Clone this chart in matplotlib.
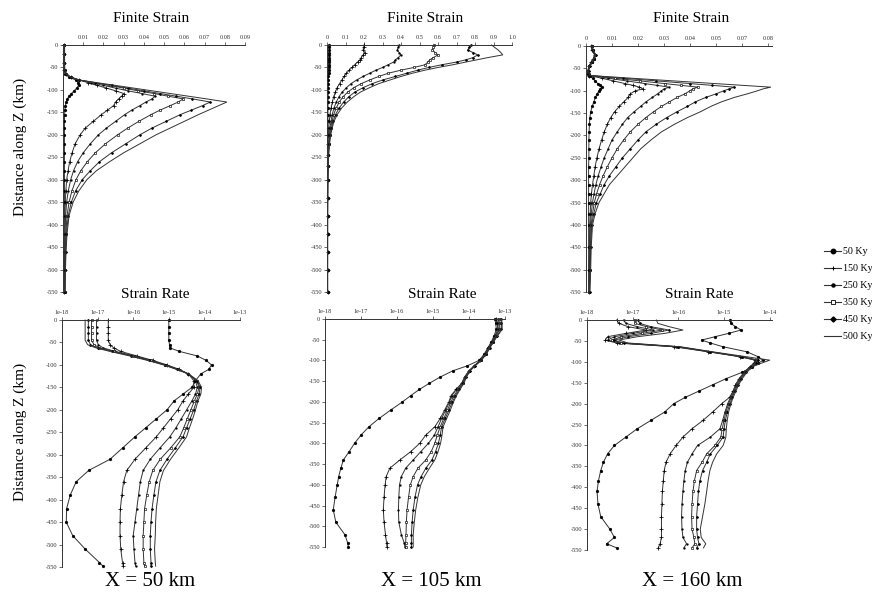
import numpy as np
import matplotlib
matplotlib.use("Agg")
import matplotlib.pyplot as plt
from matplotlib.ticker import FixedLocator, NullLocator
from matplotlib.lines import Line2D

plt.rcParams['font.family'] = ['Liberation Serif', 'DejaVu Serif']

AGES = ['50 Ky', '150 Ky', '250 Ky', '350 Ky', '450 Ky', '500 Ky']
DEPTH_TICKS = [0, -50, -100, -150, -200, -250, -300, -350, -400, -450, -500, -550]
DEPTH_TICK_LABELS = ['0', '-50', '-100', '-150', '-200', '-250', '-300', '-350',
                     '-400', '-450', '-500', '-550']

# ---------------- Finite strain, X = 50 km ----------------
depth_fs50 = [0, -20, -40, -55, -65, -72, -78, -84, -90, -96, -102, -108, -114, -120, -127,
              -135, -145, -155, -170, -185, -200, -220, -240, -260, -280, -300, -325, -350,
              -380, -420, -460, -500, -550]
fs50_50ky = [0.0005, 0.0005, 0.0005, 0.0007, 0.0012, 0.003, 0.0065, 0.0075, 0.0077, 0.0068,
             0.0055, 0.0042, 0.003, 0.0022, 0.0016, 0.0012, 0.0009, 0.0008, 0.0007, 0.0007,
             0.0007, 0.0007, 0.0007, 0.0007, 0.0007, 0.0007, 0.0007, 0.0007, 0.0007, 0.0006,
             0.0006, 0.0006, 0.0006]
fs50_150ky = [0.0006, 0.0006, 0.0006, 0.0006, 0.0013, 0.004, 0.008, 0.0125, 0.017, 0.0215,
              0.026, 0.030, 0.029, 0.0275, 0.026, 0.025, 0.022, 0.019, 0.015, 0.011,
              0.0085, 0.006, 0.0045, 0.0033, 0.0025, 0.0018, 0.0014, 0.0011, 0.001, 0.0009,
              0.0008, 0.0008, 0.0007]
fs50_250ky = [0.0006, 0.0006, 0.0006, 0.0007, 0.0014, 0.004, 0.008, 0.014, 0.020, 0.026,
              0.032, 0.039, 0.0455, 0.044, 0.041, 0.038, 0.034, 0.0305, 0.026, 0.0215,
              0.0175, 0.0135, 0.010, 0.0072, 0.0052, 0.0038, 0.0026, 0.0018, 0.0013, 0.001,
              0.0009, 0.0008, 0.0008]
fs50_350ky = [0.0007, 0.0007, 0.0007, 0.0008, 0.0015, 0.004, 0.008, 0.0155, 0.023, 0.030,
              0.037, 0.045, 0.052, 0.0595, 0.057, 0.053, 0.048, 0.0435, 0.0375, 0.032,
              0.027, 0.021, 0.016, 0.012, 0.0088, 0.0064, 0.0044, 0.003, 0.002, 0.0014,
              0.0011, 0.001, 0.0009]
fs50_450ky = [0.0007, 0.0007, 0.0007, 0.0008, 0.0015, 0.004, 0.008, 0.016, 0.024, 0.032,
              0.040, 0.048, 0.056, 0.064, 0.0728, 0.069, 0.0635, 0.058, 0.051, 0.044,
              0.038, 0.031, 0.024, 0.018, 0.0135, 0.0095, 0.0062, 0.0041, 0.0026, 0.0017,
              0.0013, 0.0011, 0.001]
fs50_500ky = [0.0008, 0.0008, 0.0008, 0.0009, 0.0016, 0.004, 0.008, 0.017, 0.026, 0.035,
              0.044, 0.053, 0.062, 0.071, 0.081, 0.077, 0.072, 0.067, 0.060, 0.053,
              0.046, 0.038, 0.030, 0.023, 0.0165, 0.0118, 0.0078, 0.005, 0.003, 0.002,
              0.0015, 0.0012, 0.001]
fs50_ticks = [0.01, 0.02, 0.03, 0.04, 0.05, 0.06, 0.07, 0.08, 0.09]
fs50_ticklabels = ['0.01', '0.02', '0.03', '0.04', '0.05', '0.06', '0.07', '0.08', '0.09']

# ---------------- Finite strain, X = 105 km ----------------
depth_fs105 = [0, -5, -11, -17, -22, -28, -33, -38, -44, -50, -56, -63, -70, -78, -86, -95,
               -105, -115, -127, -140, -155, -170, -185, -200, -220, -245, -270, -300, -340,
               -380, -420, -460, -500, -550]
fs105_50ky = [0.012, 0.012, 0.011, 0.012, 0.011, 0.011, 0.010, 0.010, 0.010, 0.009,
              0.009, 0.009, 0.008, 0.008, 0.008, 0.007, 0.007, 0.006, 0.006, 0.005,
              0.005, 0.005, 0.004, 0.004, 0.004, 0.004, 0.004, 0.003, 0.003, 0.003,
              0.003, 0.003, 0.003, 0.003]
fs105_150ky = [0.20, 0.198, 0.195, 0.205, 0.195, 0.185, 0.178, 0.165, 0.15, 0.135,
               0.12, 0.105, 0.092, 0.08, 0.068, 0.055, 0.045, 0.036, 0.029, 0.022,
               0.016, 0.012, 0.009, 0.007, 0.005, 0.004, 0.0035, 0.003, 0.003, 0.003,
               0.003, 0.003, 0.003, 0.003]
fs105_250ky = [0.39, 0.385, 0.38, 0.39, 0.40, 0.385, 0.37, 0.36, 0.33, 0.30,
               0.265, 0.23, 0.195, 0.16, 0.13, 0.105, 0.082, 0.065, 0.05, 0.038,
               0.028, 0.021, 0.016, 0.012, 0.0085, 0.006, 0.0045, 0.0035, 0.003, 0.003,
               0.003, 0.003, 0.003, 0.003]
fs105_350ky = [0.58, 0.575, 0.57, 0.585, 0.60, 0.575, 0.555, 0.545, 0.53, 0.47,
               0.40, 0.33, 0.28, 0.23, 0.185, 0.145, 0.112, 0.087, 0.066, 0.05,
               0.036, 0.027, 0.02, 0.015, 0.010, 0.007, 0.005, 0.004, 0.0035, 0.003,
               0.003, 0.003, 0.003, 0.003]
fs105_450ky = [0.78, 0.77, 0.76, 0.79, 0.815, 0.79, 0.75, 0.70, 0.62, 0.55,
               0.49, 0.43, 0.37, 0.30, 0.245, 0.195, 0.15, 0.118, 0.09, 0.066,
               0.046, 0.033, 0.024, 0.018, 0.012, 0.008, 0.006, 0.0045, 0.0035, 0.003,
               0.003, 0.003, 0.003, 0.003]
fs105_500ky = [0.89, 0.905, 0.925, 0.94, 0.95, 0.87, 0.81, 0.75, 0.68, 0.60,
               0.53, 0.46, 0.40, 0.34, 0.28, 0.23, 0.18, 0.145, 0.11, 0.08,
               0.055, 0.038, 0.028, 0.02, 0.014, 0.009, 0.007, 0.005, 0.004, 0.0035,
               0.003, 0.003, 0.003, 0.003]
fs105_ticks = [0, 0.1, 0.2, 0.3, 0.4, 0.5, 0.6, 0.7, 0.8, 0.9, 1.0]
fs105_ticklabels = ['0', '0.1', '0.2', '0.3', '0.4', '0.5', '0.6', '0.7', '0.8', '0.9', '1.0']

# ---------------- Finite strain, X = 160 km ----------------
depth_fs160 = [0, -10, -20, -28, -36, -45, -55, -62, -66, -72, -78, -84, -88, -92, -96,
               -100, -107, -115, -125, -135, -147, -160, -175, -192, -210, -230, -250, -270,
               -290, -310, -330, -350, -375, -400, -450, -500, -550]
fs160_50ky = [0.0022, 0.0025, 0.0035, 0.003, 0.0022, 0.0012, 0.0008, 0.0008, 0.0012, 0.0025,
              0.0035, 0.0045, 0.0053, 0.006, 0.0055, 0.005, 0.0043, 0.0036, 0.003, 0.0024,
              0.0018, 0.0015, 0.0013, 0.0012, 0.0011, 0.0011, 0.0011, 0.001, 0.001, 0.001,
              0.001, 0.001, 0.001, 0.001, 0.001, 0.001, 0.001]
fs160_150ky = [0.002, 0.0023, 0.0033, 0.0028, 0.002, 0.0011, 0.0007, 0.0008, 0.0013, 0.006,
               0.0105, 0.015, 0.018, 0.0205, 0.022, 0.019, 0.017, 0.0162, 0.0145, 0.0128,
               0.011, 0.0095, 0.0082, 0.007, 0.006, 0.005, 0.0042, 0.0035, 0.003, 0.0025,
               0.0021, 0.0018, 0.0016, 0.0014, 0.0013, 0.0012, 0.0011]
fs160_250ky = [0.0021, 0.0024, 0.0034, 0.0029, 0.0021, 0.0012, 0.0008, 0.0009, 0.0014, 0.0085,
               0.0156, 0.0226, 0.0273, 0.032, 0.030, 0.029, 0.0275, 0.0255, 0.023, 0.021,
               0.0185, 0.016, 0.014, 0.012, 0.010, 0.0085, 0.007, 0.0058, 0.0047, 0.0038,
               0.0031, 0.0025, 0.002, 0.0017, 0.0015, 0.0013, 0.0012]
fs160_350ky = [0.0022, 0.0026, 0.0036, 0.003, 0.0022, 0.0013, 0.0009, 0.001, 0.0015, 0.011,
               0.0207, 0.0302, 0.0366, 0.043, 0.041, 0.040, 0.038, 0.035, 0.032, 0.029,
               0.026, 0.023, 0.020, 0.017, 0.0145, 0.012, 0.010, 0.0082, 0.0066, 0.0052,
               0.0041, 0.0032, 0.0025, 0.002, 0.0017, 0.0015, 0.0013]
fs160_450ky = [0.0023, 0.0027, 0.0037, 0.0031, 0.0023, 0.0014, 0.001, 0.0011, 0.0015, 0.0143,
               0.0271, 0.040, 0.0485, 0.057, 0.055, 0.053, 0.050, 0.046, 0.042, 0.039,
               0.035, 0.031, 0.027, 0.023, 0.020, 0.017, 0.014, 0.0115, 0.009, 0.007,
               0.0055, 0.004, 0.003, 0.0022, 0.0018, 0.0016, 0.0014]
fs160_500ky = [0.0024, 0.0028, 0.0038, 0.0032, 0.0024, 0.0015, 0.0011, 0.0012, 0.0016, 0.0175,
               0.0336, 0.0496, 0.0603, 0.071, 0.068, 0.066, 0.062, 0.057, 0.052, 0.048,
               0.044, 0.039, 0.034, 0.029, 0.025, 0.021, 0.018, 0.015, 0.012, 0.009,
               0.007, 0.005, 0.0035, 0.0025, 0.002, 0.0018, 0.0015]
fs160_ticks = [0, 0.01, 0.02, 0.03, 0.04, 0.05, 0.06, 0.07]
fs160_ticklabels = ['0', '0.01', '0.02', '0.03', '0.04', '0.05', '0.07', '0.08']

# ---------------- Strain rate (log10 of s^-1), X = 50 km ----------------
depth_sr50 = [0, -15, -30, -45, -55, -62, -70, -80, -90, -100, -110, -120, -135, -150, -165,
              -180, -200, -220, -240, -260, -285, -310, -335, -360, -390, -420, -450, -480,
              -510, -540, -548]
sr50_50ky_log10 = [-15.0, -15.0, -15.0, -15.0, -14.98, -14.97, -14.7, -14.2, -13.95, -13.8,
                   -13.88, -14.1, -14.25, -14.35, -14.6, -14.85, -15.05, -15.35, -15.65, -15.95,
                   -16.3, -16.65, -17.25, -17.6, -17.77, -17.87, -17.88, -17.7, -17.35, -16.95,
                   -16.85]
sr50_150ky_log10 = [-16.70, -16.70, -16.70, -16.70, -16.65, -16.55, -16.35, -15.9, -15.45, -15.05,
                    -14.7, -14.45, -14.3, -14.3, -14.45, -14.6, -14.75, -14.95, -15.15, -15.35,
                    -15.65, -15.95, -16.18, -16.27, -16.32, -16.36, -16.37, -16.37, -16.35, -16.3,
                    -16.28]
sr50_250ky_log10 = [-17.03, -17.03, -17.03, -17.03, -16.98, -16.85, -16.5, -15.95, -15.5, -15.1,
                    -14.75, -14.45, -14.25, -14.2, -14.25, -14.35, -14.5, -14.65, -14.8, -14.97,
                    -15.25, -15.52, -15.72, -15.8, -15.85, -15.9, -15.95, -16.0, -15.98, -15.95,
                    -15.93]
sr50_350ky_log10 = [-17.17, -17.17, -17.17, -17.17, -17.1, -16.95, -16.55, -16.0, -15.5, -15.1,
                    -14.75, -14.45, -14.22, -14.15, -14.2, -14.28, -14.38, -14.48, -14.58, -14.69,
                    -14.95, -15.24, -15.45, -15.55, -15.62, -15.68, -15.7, -15.72, -15.72, -15.7,
                    -15.68]
sr50_450ky_log10 = [-17.26, -17.26, -17.26, -17.26, -17.2, -17.0, -16.6, -16.05, -15.55, -15.12,
                    -14.76, -14.45, -14.2, -14.12, -14.15, -14.22, -14.3, -14.4, -14.5, -14.6,
                    -14.82, -15.05, -15.25, -15.36, -15.42, -15.47, -15.5, -15.52, -15.52, -15.5,
                    -15.5]
sr50_500ky_log10 = [-17.35, -17.35, -17.35, -17.35, -17.28, -17.05, -16.65, -16.1, -15.6, -15.15,
                    -14.78, -14.45, -14.18, -14.08, -14.1, -14.18, -14.25, -14.33, -14.42, -14.5,
                    -14.72, -14.95, -15.15, -15.25, -15.3, -15.35, -15.37, -15.38, -15.4, -15.38,
                    -15.37]
sr50_ticks = [1e-18, 1e-17, 1e-16, 1e-15, 1e-14, 1e-13]
sr50_ticklabels = ['1e-18', '1e-17', '1e-16', '1e-15', '1e-14', '1e-13']

# ---------------- Strain rate (log10), X = 105 km ----------------
depth_sr105 = [0, -10, -25, -40, -55, -70, -85, -100, -113, -125, -140, -155, -170, -185, -200,
               -220, -240, -260, -280, -300, -320, -340, -360, -380, -400, -430, -460, -490,
               -520, -540, -550]
sr105_50ky_log10 = [-13.28, -13.26, -13.24, -13.3, -13.38, -13.48, -13.58, -13.72, -14.05, -14.45,
                    -14.8, -15.1, -15.38, -15.62, -15.85, -16.18, -16.5, -16.78, -17.0, -17.18,
                    -17.33, -17.49, -17.56, -17.62, -17.66, -17.72, -17.77, -17.7, -17.45, -17.37,
                    -17.35]
sr105_150ky_log10 = [-13.25, -13.22, -13.2, -13.28, -13.36, -13.46, -13.56, -13.7, -13.85, -14.0,
                     -14.12, -14.2, -14.36, -14.5, -14.56, -14.68, -14.8, -14.95, -15.2, -15.37,
                     -15.62, -15.92, -16.2, -16.3, -16.33, -16.36, -16.38, -16.36, -16.32, -16.29,
                     -16.28]
sr105_250ky_log10 = [-13.2, -13.18, -13.16, -13.27, -13.35, -13.45, -13.55, -13.69, -13.85, -14.0,
                     -14.12, -14.2, -14.35, -14.48, -14.54, -14.65, -14.76, -14.86, -14.96, -15.13,
                     -15.34, -15.55, -15.76, -15.88, -15.93, -15.95, -15.96, -15.95, -15.88, -15.8,
                     -15.78]
sr105_350ky_log10 = [-13.18, -13.15, -13.14, -13.25, -13.34, -13.44, -13.54, -13.68, -13.85, -14.0,
                     -14.1, -14.18, -14.3, -14.42, -14.5, -14.6, -14.7, -14.8, -14.88, -14.95,
                     -15.05, -15.2, -15.42, -15.55, -15.63, -15.68, -15.72, -15.74, -15.75, -15.76,
                     -15.76]
sr105_450ky_log10 = [-13.12, -13.1, -13.1, -13.22, -13.33, -13.43, -13.53, -13.67, -13.84, -13.98,
                     -14.08, -14.16, -14.27, -14.38, -14.46, -14.56, -14.66, -14.76, -14.8, -14.85,
                     -14.93, -15.03, -15.2, -15.33, -15.43, -15.5, -15.55, -15.58, -15.6, -15.6,
                     -15.6]
sr105_500ky_log10 = [-13.1, -13.08, -13.08, -13.2, -13.32, -13.42, -13.52, -13.66, -13.83, -13.97,
                     -14.07, -14.14, -14.25, -14.35, -14.43, -14.52, -14.62, -14.72, -14.75, -14.79,
                     -14.86, -14.95, -15.1, -15.24, -15.34, -15.42, -15.48, -15.52, -15.55, -15.55,
                     -15.55]
sr105_ticks = [1e-18, 1e-17, 1e-16, 1e-15, 1e-14, 1e-13]
sr105_ticklabels = ['1e-18', '1e-17', '1e-16', '1e-15', '1e-14', '1e-13']

# ---------------- Strain rate (log10), X = 160 km ----------------
depth_sr160 = [0, -8, -16, -24, -32, -40, -48, -55, -64, -76, -88, -96, -104, -112, -125,
               -140, -155, -170, -185, -200, -220, -240, -260, -280, -300, -320, -340, -360,
               -385, -410, -440, -470, -500, -520, -535, -545]
sr160_50ky_log10 = [-14.87, -14.85, -14.75, -14.63, -14.9, -15.2, -15.49, -15.3, -15.02, -14.5,
                    -14.25, -14.15, -14.25, -14.38, -14.6, -14.95, -15.25, -15.55, -15.85, -16.1,
                    -16.3, -16.6, -16.9, -17.15, -17.4, -17.55, -17.64, -17.7, -17.75, -17.78,
                    -17.76, -17.7, -17.5, -17.4, -17.57, -17.35]
sr160_150ky_log10 = [-17.35, -17.3, -17.1, -16.7, -17.15, -17.55, -17.6, -17.35, -16.1, -15.35,
                     -14.65, -14.32, -14.35, -14.44, -14.56, -14.67, -14.75, -14.8, -14.88, -15.05,
                     -15.25, -15.46, -15.7, -15.9, -16.05, -16.18, -16.27, -16.31, -16.33, -16.35,
                     -16.36, -16.37, -16.37, -16.37, -16.4, -16.44]
sr160_250ky_log10 = [-17.2, -17.15, -16.9, -16.55, -17.0, -17.4, -17.55, -17.3, -16.05, -15.32,
                     -14.62, -14.3, -14.34, -14.43, -14.55, -14.66, -14.74, -14.8, -14.86, -14.92,
                     -14.98, -15.03, -15.09, -15.3, -15.58, -15.7, -15.8, -15.85, -15.88, -15.9,
                     -15.92, -15.93, -15.92, -15.9, -15.82, -15.88]
sr160_350ky_log10 = [-16.95, -16.95, -16.7, -16.35, -16.8, -17.25, -17.45, -17.25, -16.0, -15.3,
                     -14.6, -14.28, -14.32, -14.42, -14.54, -14.64, -14.72, -14.78, -14.84, -14.9,
                     -14.96, -15.0, -15.04, -15.07, -15.2, -15.38, -15.48, -15.6, -15.65, -15.68,
                     -15.7, -15.71, -15.7, -15.66, -15.64, -15.7]
sr160_450ky_log10 = [-16.88, -16.85, -16.6, -16.2, -16.6, -17.1, -17.4, -17.2, -16.0, -15.3,
                     -14.6, -14.25, -14.3, -14.4, -14.52, -14.62, -14.7, -14.76, -14.82, -14.87,
                     -14.93, -14.97, -15.0, -15.02, -15.15, -15.3, -15.38, -15.47, -15.53, -15.56,
                     -15.58, -15.6, -15.6, -15.58, -15.55, -15.6]
sr160_500ky_log10 = [-16.48, -16.45, -16.2, -15.9, -16.3, -16.9, -17.3, -17.1, -15.95, -15.25,
                     -14.5, -14.0, -14.2, -14.38, -14.5, -14.6, -14.68, -14.74, -14.8, -14.85,
                     -14.9, -14.93, -14.95, -14.96, -15.02, -15.16, -15.25, -15.31, -15.35, -15.38,
                     -15.42, -15.47, -15.52, -15.5, -15.4, -15.45]
sr160_ticks = [1e-18, 1e-17, 1e-16, 1e-15, 1e-14]
sr160_ticklabels = ['1e-18', '1e-17', '1e-16', '1e-15', '1e-14']

# ---------------- figure ----------------
W, H = 872, 596
fig = plt.figure(figsize=(W / 100, H / 100), dpi=100)


def box(x0, y0, x1, y1):
    return [x0 / W, 1 - y1 / H, (x1 - x0) / W, (y1 - y0) / H]


LINE_C = '#333333'
STYLES = [
    dict(marker='o', ms=2.1, mfc='k', mec='k', mew=0.2),
    dict(marker='+', ms=2.4, mec='k', mew=0.55),
    dict(marker='o', ms=1.4, mfc='k', mec='k', mew=0.2),
    dict(marker='s', ms=1.7, mfc='white', mec='k', mew=0.45),
    dict(marker='D', ms=1.5, mfc='k', mec='k', mew=0.2),
    dict(marker=None),
]
LEGEND_STYLES = [
    dict(marker='o', ms=3.2, mfc='k', mec='k'),
    dict(marker='+', ms=3.5, mec='k', mew=0.7),
    dict(marker='o', ms=2.2, mfc='k', mec='k'),
    dict(marker='s', ms=3.0, mfc='white', mec='k', mew=0.6),
    dict(marker='D', ms=2.6, mfc='k', mec='k'),
    dict(marker=None),
]


def draw(ax, depth, series, log=False):
    for vals, st in zip(series, STYLES):
        x = np.power(10.0, np.asarray(vals)) if log else np.asarray(vals)
        ax.plot(x, depth, color=LINE_C, lw=0.7, clip_on=False, **st)


def setup(ax, xlim, ticks, ticklabels, log=False):
    if log:
        ax.set_xscale('log')
    ax.set_xlim(*xlim)
    ax.set_ylim(-550, 0)
    ax.xaxis.tick_top()
    ax.xaxis.set_major_locator(FixedLocator(ticks))
    ax.set_xticklabels(ticklabels)
    ax.xaxis.set_minor_locator(NullLocator())
    ax.yaxis.set_major_locator(FixedLocator(DEPTH_TICKS))
    ax.set_yticklabels(DEPTH_TICK_LABELS)
    for s in ('bottom', 'right'):
        ax.spines[s].set_visible(False)
    for s in ('top', 'left'):
        ax.spines[s].set_linewidth(0.7)
        ax.spines[s].set_color('#333333')
    ax.tick_params(axis='x', labelsize=4.5, length=2, width=0.5, pad=1.5,
                   colors='#333333')
    ax.tick_params(axis='y', labelsize=4.6, length=2, width=0.5, pad=1.5,
                   colors='#333333')
    ax.set_facecolor('none')


ax1 = fig.add_axes(box(63, 45, 245, 292))
setup(ax1, (0, 0.09), fs50_ticks, fs50_ticklabels)
draw(ax1, depth_fs50, [fs50_50ky, fs50_150ky, fs50_250ky, fs50_350ky, fs50_450ky, fs50_500ky])

ax2 = fig.add_axes(box(327, 45, 512, 292))
setup(ax2, (0, 1.0), fs105_ticks, fs105_ticklabels)
draw(ax2, depth_fs105, [fs105_50ky, fs105_150ky, fs105_250ky, fs105_350ky, fs105_450ky,
                        fs105_500ky])

ax3 = fig.add_axes(box(586, 46, 772, 292))
setup(ax3, (0, 0.0715), fs160_ticks, fs160_ticklabels)
draw(ax3, depth_fs160, [fs160_50ky, fs160_150ky, fs160_250ky, fs160_350ky, fs160_450ky,
                        fs160_500ky])

ax4 = fig.add_axes(box(62, 320, 240, 567))
setup(ax4, (1e-18, 1e-13), sr50_ticks, sr50_ticklabels, log=True)
draw(ax4, depth_sr50, [sr50_50ky_log10, sr50_150ky_log10, sr50_250ky_log10, sr50_350ky_log10,
                       sr50_450ky_log10, sr50_500ky_log10], log=True)

ax5 = fig.add_axes(box(325, 319, 505, 547))
setup(ax5, (1e-18, 1e-13), sr105_ticks, sr105_ticklabels, log=True)
draw(ax5, depth_sr105, [sr105_50ky_log10, sr105_150ky_log10, sr105_250ky_log10,
                        sr105_350ky_log10, sr105_450ky_log10, sr105_500ky_log10], log=True)

ax6 = fig.add_axes(box(587, 320, 772, 550))
setup(ax6, (1e-18, 10 ** -13.95), sr160_ticks, sr160_ticklabels, log=True)
draw(ax6, depth_sr160, [sr160_50ky_log10, sr160_150ky_log10, sr160_250ky_log10,
                        sr160_350ky_log10, sr160_450ky_log10, sr160_500ky_log10], log=True)

# titles
for xc, txt in [(151, 'Finite Strain'), (425, 'Finite Strain'), (691, 'Finite Strain')]:
    fig.text(xc / W, 1 - 18 / H, txt, ha='center', va='center', fontsize=11)
for xc, txt in [(155, 'Strain Rate'), (442, 'Strain Rate'), (699, 'Strain Rate')]:
    fig.text(xc / W, 1 - 294 / H, txt, ha='center', va='center', fontsize=11)
for xc, txt in [(150, 'X = 50 km'), (431, 'X = 105 km'), (692, 'X = 160 km')]:
    fig.text(xc / W, 1 - 582 / H, txt, ha='center', va='center', fontsize=15)
for yc in (147, 432):
    fig.text(20 / W, 1 - yc / H, 'Distance along Z (km)', ha='center', va='center',
             rotation=90, fontsize=11)

# legend
handles = [Line2D([], [], color=LINE_C, lw=0.8, **st) for st in LEGEND_STYLES]
fig.legend(handles, AGES, loc='upper left', bbox_to_anchor=(824 / W, 1 - 247 / H),
           frameon=False, fontsize=7.2, handlelength=1.7, handletextpad=0.15,
           labelspacing=0.8, borderpad=0, borderaxespad=0)

fig.savefig('out.png', dpi=100)
